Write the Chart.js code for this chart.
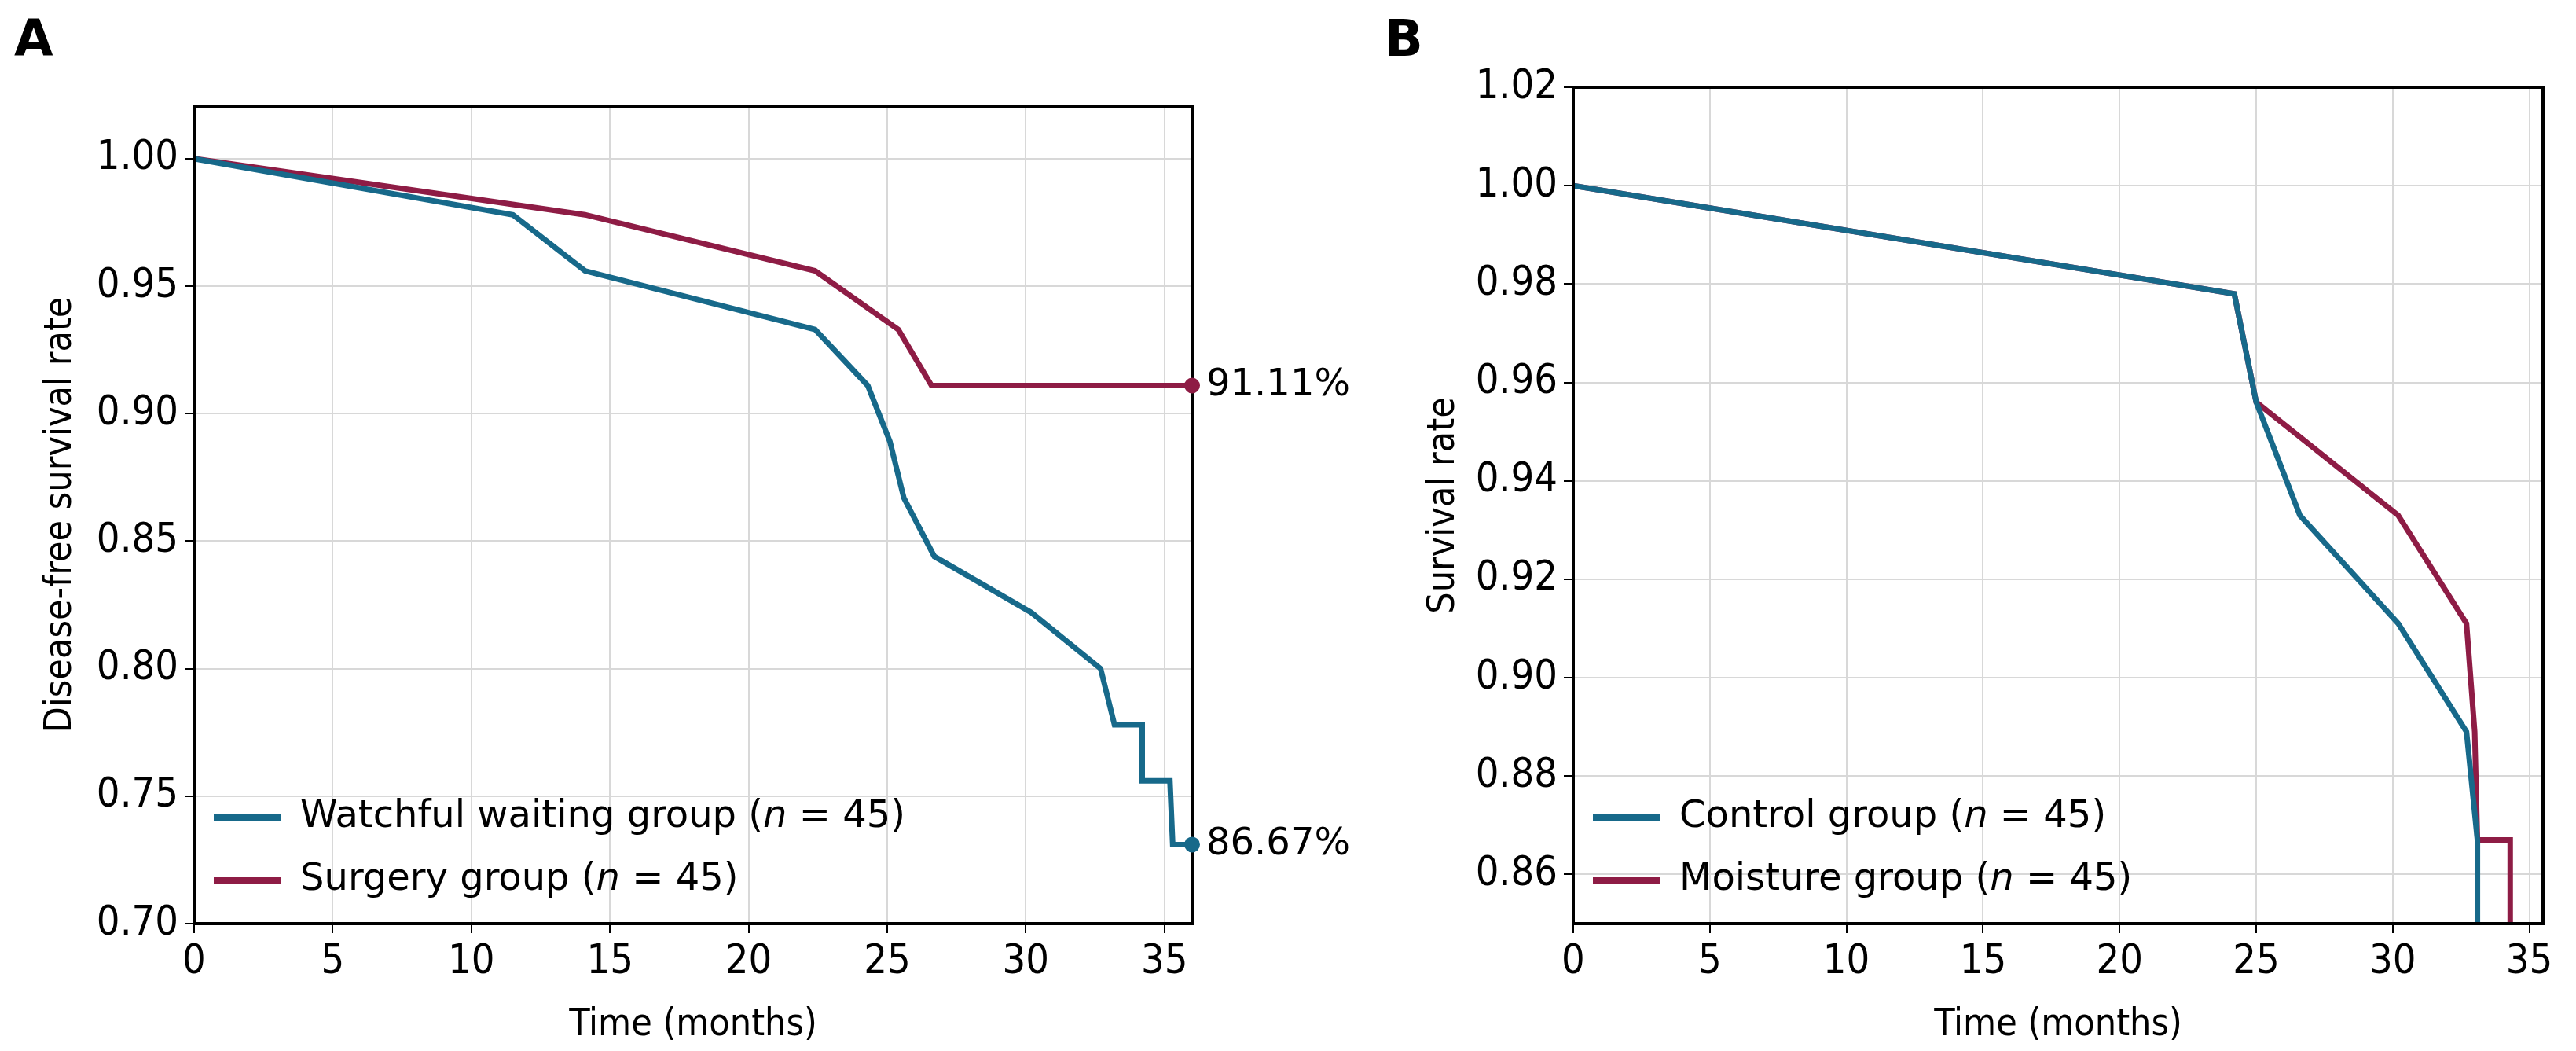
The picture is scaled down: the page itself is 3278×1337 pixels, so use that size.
<!DOCTYPE html>
<html><head><meta charset="utf-8">
<script src="https://cdn.jsdelivr.net/npm/chart.js@4/dist/chart.umd.min.js"></script>
<style>body{margin:0;background:#fff;width:3278px;height:1337px;position:relative;overflow:hidden}
.p{position:absolute;top:0;height:1337px}
.lab{position:absolute;font:bold 64px "DejaVu Sans";top:12px;z-index:5}
</style></head><body>
<div class="lab" style="left:18px">A</div><div class="lab" style="left:1762px">B</div>
<div class="p" style="left:0;width:1800px"><canvas id="a"></canvas></div>
<div class="p" style="left:1640px;width:1638px"><canvas id="b"></canvas></div>
<script>
// Panel A
const watchfulX = [0, 11.5, 14.1, 22.4, 24.3, 25.1, 25.6, 26.7, 30.2, 32.7, 33.2, 34.2, 34.2, 35.2, 35.3, 36];
const watchfulY = [1.0, 0.978, 0.956, 0.933, 0.911, 0.889, 0.867, 0.844, 0.822, 0.800, 0.778, 0.778, 0.756, 0.756, 0.731, 0.731];
const surgeryX = [0, 14.1, 22.4, 25.4, 26.6, 36];
const surgeryY = [1.0, 0.978, 0.956, 0.933, 0.911, 0.911];
// Panel B
const controlX = [0, 24.2, 25.0, 26.6, 30.2, 32.7, 33.1, 33.1];
const controlY = [1.0, 0.978, 0.956, 0.933, 0.911, 0.889, 0.867, 0.85];
const moistureX = [0, 24.2, 25.0, 30.2, 32.7, 33.0, 33.1, 34.3, 34.3];
const moistureY = [1.0, 0.978, 0.956, 0.933, 0.911, 0.889, 0.867, 0.867, 0.85];
const xTicks = [0, 5, 10, 15, 20, 25, 30, 35];
const yTicksA = [0.70, 0.75, 0.80, 0.85, 0.90, 0.95, 1.00];
const yTicksB = [0.86, 0.88, 0.90, 0.92, 0.94, 0.96, 0.98, 1.00, 1.02];
const legendA = ["Watchful waiting group", "Surgery group"];
const legendB = ["Control group", "Moisture group"];
const endLabels = ["86.67%", "91.11%"];
const teal = "#17698a", maroon = "#8e1c45";
const pts = (xs, ys) => xs.map((x, i) => ({x, y: ys[i]}));

const frame = {id:'frame', afterDraw(c, a, o){
  const {ctx, chartArea:ca} = c; ctx.save();
  ctx.strokeStyle='#000'; ctx.lineWidth=4; ctx.strokeRect(ca.left, ca.top, ca.right-ca.left, ca.bottom-ca.top);
  const L = o.legend; const fs = 48;
  L.items.forEach((t, i) => {
    const y = ca.bottom - o.legendBottom[i];
    ctx.strokeStyle = L.colors[i]; ctx.lineWidth = 8;
    ctx.beginPath(); ctx.moveTo(ca.left + 25, y); ctx.lineTo(ca.left + 110, y); ctx.stroke();
    ctx.fillStyle = '#000'; ctx.textBaseline = 'middle';
    let x = ca.left + 135;
    ctx.font = fs + 'px "DejaVu Sans"'; ctx.fillText(t + ' (', x, y); x += ctx.measureText(t + ' (').width;
    ctx.font = 'italic ' + fs + 'px "DejaVu Sans"'; ctx.fillText('n', x, y); x += ctx.measureText('n').width;
    ctx.font = fs + 'px "DejaVu Sans"'; ctx.fillText(' = 45)', x, y);
  });
  if (o.ends) {
    const xs = c.scales.x, ys = c.scales.y;
    ctx.font = '48px "DejaVu Sans"'; ctx.textBaseline = 'middle';
    o.ends.forEach(e => {
      ctx.fillStyle = e.c; ctx.beginPath(); ctx.arc(xs.getPixelForValue(e.x), ys.getPixelForValue(e.y), 10, 0, 7); ctx.fill();
      ctx.fillStyle = '#000'; ctx.fillText(e.t, xs.getPixelForValue(e.x) + 18, ys.getPixelForValue(e.y));
    });
  }
  ctx.restore();
}};

function make(id, ds, ymin, ymax, yt, xmax, ytitle, pleft, ywidth, ptop, pright, leg, ends){
  return new Chart(document.getElementById(id), {
    type:'line',
    data:{datasets: ds.map(d => ({data:d.d, borderColor:d.c, borderWidth:7, pointRadius:0, tension:0, fill:false}))},
    options:{responsive:true, maintainAspectRatio:false, animation:false,
      layout:{padding:{top:ptop, right:pright, left:pleft}},
      plugins:{legend:{display:false}, tooltip:{enabled:false},
        frame:{legend:leg, legendBottom:[135, 55], ends}},
      scales:{
        x:{type:'linear', min:0, max:xmax,
          afterBuildTicks: s => { s.ticks = xTicks.map(v=>({value:v})); },
          afterFit: s => { s.height = 162; },
          grid:{color:'#d8d8d8', lineWidth:2, tickLength:12, tickColor:'#000'},
          border:{color:'#000', width:4},
          ticks:{font:{family:'"DejaVu Sans Condensed"', size:52}, color:'#000', padding:6, maxRotation:0},
          title:{display:true, text:'Time (months)', font:{family:'"DejaVu Sans Condensed"', size:48}, color:'#000', padding:{top:4}}},
        y:{type:'linear', min:ymin, max:ymax,
          afterBuildTicks: s => { s.ticks = yt.map(v=>({value:v})); },
          afterFit: s => { s.width = ywidth; },
          grid:{color:'#d8d8d8', lineWidth:2, tickLength:12, tickColor:'#000'},
          border:{color:'#000', width:4},
          ticks:{font:{family:'"DejaVu Sans Condensed"', size:52}, color:'#000', padding:8, callback:v=>v.toFixed(2)},
          title:{display:true, text:ytitle, font:{family:'"DejaVu Sans Condensed"', size:48}, color:'#000', padding:{bottom:10}}}
      }},
    plugins:[frame]
  });
}
make('a', [{d:pts(watchfulX,watchfulY), c:teal},{d:pts(surgeryX,surgeryY), c:maroon}],
  0.70, 1.0206, yTicksA, 36, 'Disease-free survival rate', 45, 202, 135, 283,
  {items:legendA, colors:[teal, maroon]},
  [{x:36, y:0.911, t:endLabels[1], c:maroon},{x:36, y:0.731, t:endLabels[0], c:teal}]);
make('b', [{d:pts(controlX,controlY), c:teal},{d:pts(moistureX,moistureY), c:maroon}],
  0.85, 1.02, yTicksB, 35.5, 'Survival rate', 165, 197, 111, 42,
  {items:legendB, colors:[teal, maroon]}, null);
</script></body></html>
